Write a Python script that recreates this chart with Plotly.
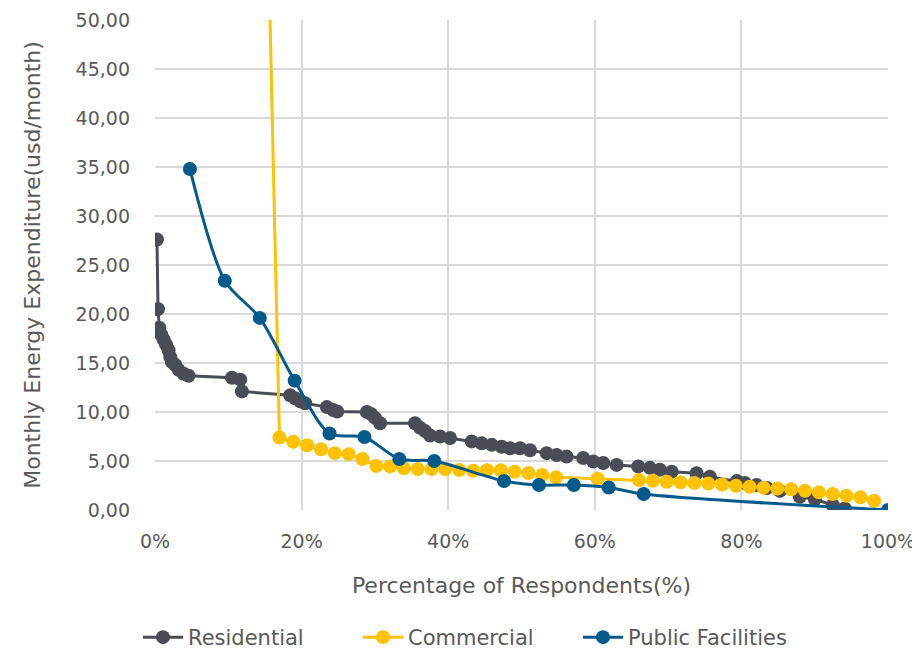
import plotly.graph_objects as go

# ---------------- data ----------------
res_x = [0.27, 0.41, 0.59, 0.86, 1.17, 1.50, 1.85, 2.09, 2.32, 2.77, 3.22, 3.90, 4.58,
         10.50, 11.63, 11.86, 18.44, 19.12, 19.81, 20.49, 23.45, 24.31, 24.85,
         28.90, 29.48, 30.03, 30.71, 35.48, 36.16, 36.84, 37.52, 38.88, 40.25,
         43.21, 44.57, 45.94, 47.30, 48.43, 49.80, 51.16, 53.44, 54.80, 56.16,
         58.42, 59.79, 61.15, 62.98, 65.92, 67.52, 68.88, 70.48, 73.88, 75.70,
         79.38, 80.47, 82.06, 83.47, 85.24, 87.97, 90.02, 92.47, 94.10]
res_y = [27.6, 20.5, 18.6, 17.9, 17.4, 16.9, 16.3, 15.6, 15.1, 14.8, 14.3, 13.9, 13.7,
         13.5, 13.3, 12.1, 11.7, 11.4, 11.1, 10.9, 10.5, 10.2, 10.05,
         10.0, 9.8, 9.4, 8.85, 8.85, 8.4, 8.05, 7.6, 7.5, 7.35,
         7.0, 6.8, 6.65, 6.45, 6.3, 6.3, 6.1, 5.8, 5.6, 5.45,
         5.3, 4.95, 4.8, 4.6, 4.45, 4.3, 4.1, 3.9, 3.75, 3.4,
         2.95, 2.75, 2.55, 2.25, 1.95, 1.35, 1.1, 0.5, 0.15]

com_x = [15.09, 16.98, 18.87, 20.75, 22.64, 24.53, 26.42, 28.30, 30.19, 32.08, 33.96,
         35.85, 37.74, 39.62, 41.51, 43.40, 45.28, 47.17, 49.06, 50.94, 52.83, 54.72,
         60.38, 66.04, 67.92, 69.81, 71.70, 73.58, 75.47, 77.36, 79.25, 81.13, 83.02,
         84.91, 86.79, 88.68, 90.57, 92.45, 94.34, 96.23, 98.11]
com_y = [70.0, 7.4, 6.96, 6.6, 6.2, 5.8, 5.7, 5.2, 4.5, 4.45, 4.25,
         4.18, 4.18, 4.18, 4.07, 4.0, 4.05, 4.05, 3.9, 3.77, 3.56, 3.33,
         3.2, 3.05, 2.98, 2.88, 2.82, 2.75, 2.7, 2.6, 2.47, 2.37, 2.28,
         2.2, 2.12, 1.97, 1.8, 1.63, 1.46, 1.29, 0.95]

pub_x = [4.76, 9.52, 14.29, 19.05, 23.81, 28.57, 33.33, 38.10, 47.62, 52.38, 57.14,
         61.90, 66.67, 100.0]
pub_y = [34.8, 23.4, 19.6, 13.2, 7.8, 7.45, 5.2, 5.0, 2.96, 2.55, 2.55, 2.3, 1.63, 0.0]

x_tick_vals = [0, 20, 40, 60, 80, 100]
x_tick_labels = ["0%", "20%", "40%", "60%", "80%", "100%"]
y_tick_vals = [0, 5, 10, 15, 20, 25, 30, 35, 40, 45, 50]

GREY = "#4a4d55"
YELLOW = "#fec200"
BLUE = "#035a8b"
TEXT = "#595959"
FONT = "DejaVu Sans"

fig = go.Figure()
fig.add_trace(go.Scatter(x=res_x, y=res_y, name="Residential", mode="lines+markers",
                         line=dict(color=GREY, width=3),
                         marker=dict(color=GREY, size=14)))
fig.add_trace(go.Scatter(x=com_x, y=com_y, name="Commercial", mode="lines+markers",
                         line=dict(color=YELLOW, width=3),
                         marker=dict(color=YELLOW, size=14)))
fig.add_trace(go.Scatter(x=pub_x, y=pub_y, name="Public Facilities", mode="lines+markers",
                         line=dict(color=BLUE, width=3, shape="spline", smoothing=0.8),
                         marker=dict(color=BLUE, size=14)))

fig.update_layout(
    width=920, height=650,
    margin=dict(l=147, r=40, t=12, b=148, autoexpand=False),
    paper_bgcolor="white", plot_bgcolor="white",
    separators=",.",
    font=dict(family=FONT, color=TEXT, size=19),
    showlegend=True,
    legend=dict(orientation="h", xref="container", yref="container",
                x=0.5, xanchor="center", y=0.0, yanchor="bottom",
                font=dict(family=FONT, size=21, color=TEXT),
                itemwidth=40, traceorder="normal",
                entrywidth=165, entrywidthmode="pixels"),
)
fig.update_xaxes(range=[0, 100], tickvals=x_tick_vals, ticktext=x_tick_labels,
                 showgrid=True, gridcolor="#d9d9d9", gridwidth=1.5,
                 zeroline=False, showline=False, ticks="", automargin=False,
                 ticklabelstandoff=18,
                 tickfont=dict(family=FONT, size=19, color=TEXT),
                 title=dict(text="Percentage of Respondents(%)", standoff=26,
                            font=dict(family=FONT, size=22, color=TEXT)))
fig.update_yaxes(range=[0, 50], tickvals=y_tick_vals, tickformat=".2f",
                 showgrid=True, gridcolor="#d9d9d9", gridwidth=1.5,
                 zeroline=False, showline=False, ticks="", automargin=False,
                 ticklabelstandoff=24,
                 tickfont=dict(family=FONT, size=19, color=TEXT),
                 title=dict(text="Monthly Energy Expenditure(usd/month)", standoff=28,
                            font=dict(family=FONT, size=22, color=TEXT)))

fig.write_html("out.html")
